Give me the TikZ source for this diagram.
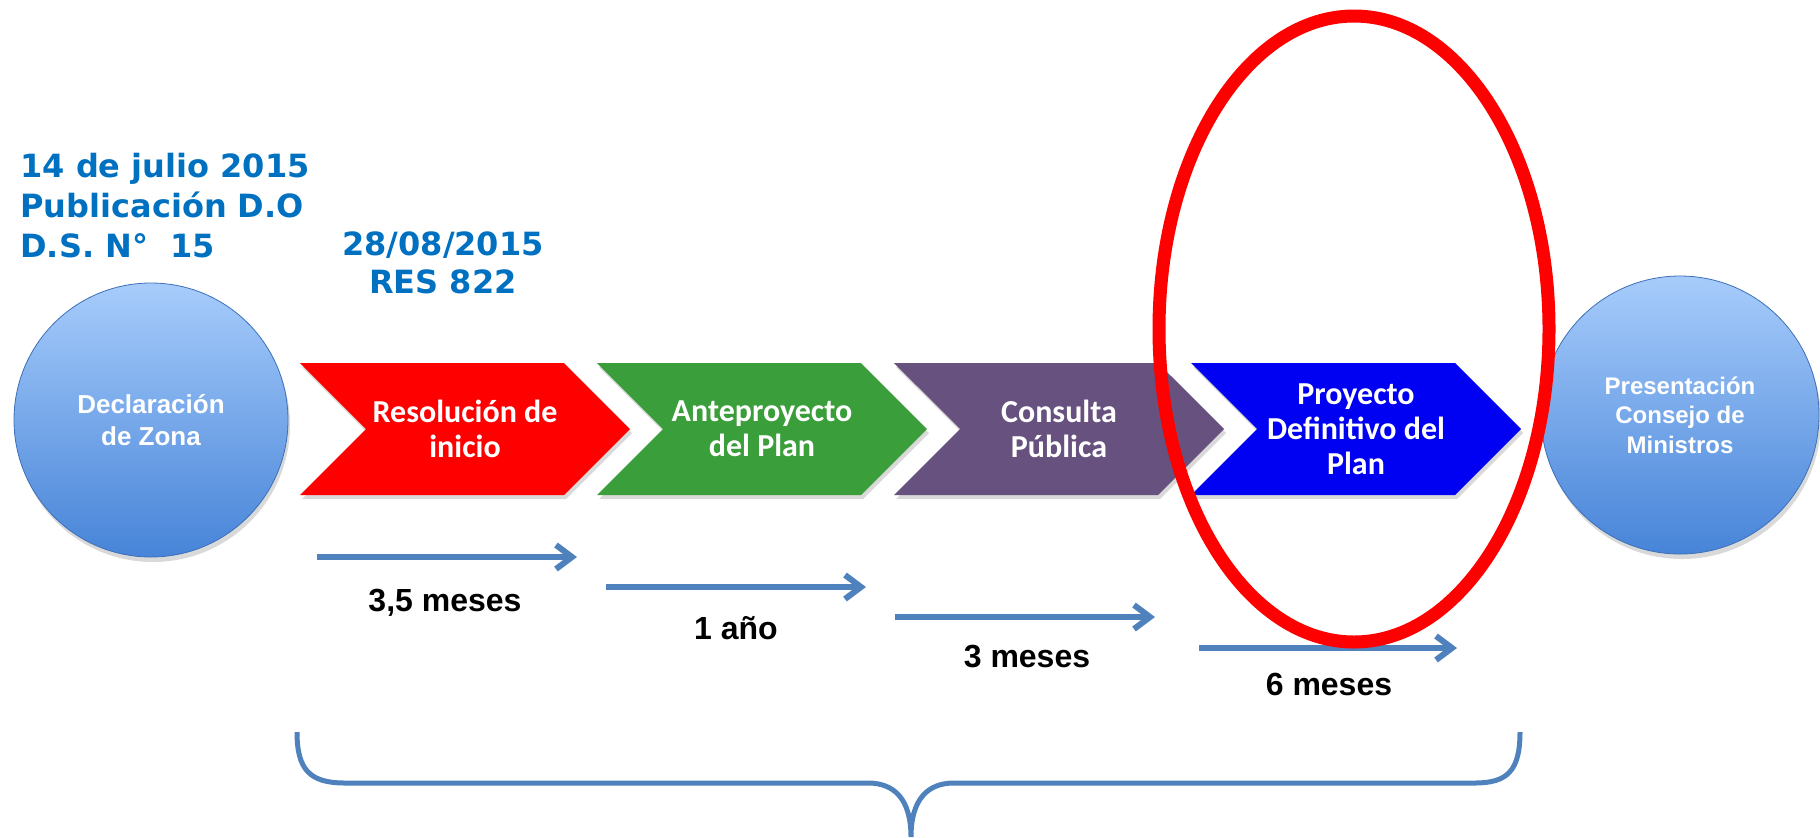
\documentclass[tikz,border=0pt]{standalone}
\usepackage{fontspec}
\setmainfont{Liberation Sans}
\newfontfamily\datefont{DejaVu Sans}
\newfontfamily\stepfont{Carlito}
\usetikzlibrary{shapes.symbols,shadows,arrows.meta}

\definecolor{dateblue}{HTML}{0070C0}
\definecolor{lineblue}{HTML}{4F81BD}
\definecolor{ballTop}{HTML}{A7CCFB}
\definecolor{ballBot}{HTML}{4784D8}
\definecolor{chevred}{HTML}{FF0000}
\definecolor{chevgreen}{HTML}{3A9E3A}
\definecolor{chevpurple}{HTML}{67517F}
\definecolor{chevblue}{HTML}{0000F2}

\tikzset{
  ball/.style={circle, inner sep=0pt, top color=ballTop, bottom color=ballBot,
    draw=ballBot!85!black, line width=0.4pt, text=white, align=center,
    drop shadow={opacity=0.3, shadow xshift=1pt, shadow yshift=-2.5pt}},
  chevron/.style={signal, signal from=west, signal to=east, signal pointer angle=90,
    minimum width=165pt, minimum height=66pt, inner sep=0pt, text=white, align=center,
    font=\stepfont\bfseries\fontsize{16pt}{17.5pt}\selectfont,
    drop shadow={opacity=0.3, shadow xshift=1pt, shadow yshift=-2pt}},
  timearrow/.style={lineblue, line width=3pt, -{Straight Barb[length=8pt,width=12pt]}},
  timelabel/.style={font=\bfseries\fontsize{16pt}{19pt}\selectfont}
}

\begin{document}
\begin{tikzpicture}[x=0.5pt, y=-0.5pt]
\useasboundingbox (0,0) rectangle (1820,837);

\node[anchor=west, align=left, inner sep=0pt, text=dateblue, font=\datefont\bfseries\fontsize{16pt}{20pt}\selectfont]
  (decreto) at (20,206) {14 de julio 2015\\Publicación D.O\\D.S. N°\ \ 15};
\node[align=center, inner sep=0pt, text=dateblue, font=\datefont\bfseries\fontsize{16pt}{19pt}\selectfont]
  (resol) at (443,263) {28/08/2015\\RES 822};

\node[ball, minimum size=137pt, font=\bfseries\fontsize{13pt}{16pt}\selectfont]
  (declar) at (151,420) {Declaración\\de Zona};
\node[ball, minimum size=139pt, font=\bfseries\fontsize{12pt}{14.75pt}\selectfont]
  (present) at (1680,415) {Presentación\\Consejo de\\Ministros};

\node[chevron, fill=chevred] (inicio) at (465,429) {Resolución de\\inicio};
\node[chevron, fill=chevgreen] (antepro) at (762,429) {Anteproyecto\\del Plan};
\node[chevron, fill=chevpurple] (consulta) at (1059,429) {Consulta\\Pública};
\node[chevron, fill=chevblue] (proyecto) at (1356,429) {Proyecto\\Definitivo del\\Plan};

\coordinate (t1a) at (317,557);  \coordinate (t1b) at (577,557);
\coordinate (t2a) at (606,587);  \coordinate (t2b) at (866,587);
\coordinate (t3a) at (895,617);  \coordinate (t3b) at (1155,617);
\coordinate (t4a) at (1199,648); \coordinate (t4b) at (1457,648);
\draw[timearrow] (t1a) -- (t1b);
\draw[timearrow] (t2a) -- (t2b);
\draw[timearrow] (t3a) -- (t3b);
\draw[timearrow] (t4a) -- (t4b);

\node[timelabel] (dur1) at (445,603) {3,5 meses};
\node[timelabel] (dur2) at (736,628) {1 año};
\node[timelabel] (dur3) at (1027,656) {3 meses};
\node[timelabel] (dur4) at (1329,684) {6 meses};

\draw[lineblue, line width=2.5pt] (297,732) .. controls (297,770) and (310,783) .. (345,783)
  -- (868,783) .. controls (895,783) and (911,800) .. (911,837)
  .. controls (911,800) and (927,783) .. (954,783)
  -- (1475,783) .. controls (1508,783) and (1520,770) .. (1520,732);

\draw[chevred, line width=6.5pt] (1354,329) ellipse [x radius=195, y radius=313];

\end{tikzpicture}
\end{document}
